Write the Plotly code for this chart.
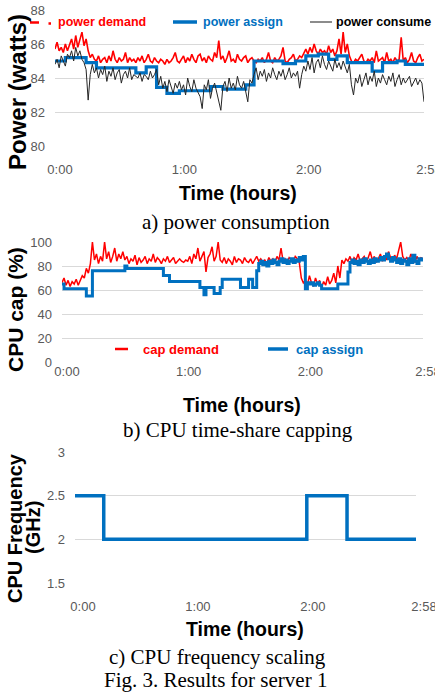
import plotly.graph_objects as go

# ---------------- data ----------------
minutes = list(range(179))  # 0:00 .. 2:58, one sample per minute

power_demand = [
    85.7, 86.1, 85.6, 85.8, 85.5, 86.0, 85.6, 85.9, 86.3, 85.7,
    86.5, 85.8, 86.2, 86.7, 85.9, 86.3, 85.6, 85.2, 85.4, 85.1,
    85.0, 85.3, 84.9, 85.1, 85.2, 84.9, 85.3, 85.0, 85.6, 85.1,
    84.9, 85.2, 85.0, 85.1, 85.5, 84.9, 85.2, 85.0, 85.1, 84.9,
    85.2, 85.0, 85.3, 84.9, 85.1, 85.4, 85.0, 84.9, 85.2, 85.0,
    84.9, 85.1, 85.0, 84.8, 85.1, 84.9, 85.0, 85.2, 85.5, 85.0,
    84.9, 85.1, 85.3, 84.9, 85.2, 85.0, 85.4, 85.1, 84.9, 85.3,
    85.4, 85.0, 85.2, 84.9, 85.3, 85.1, 85.0, 85.5, 85.2, 86.2,
    85.1, 85.3, 84.9, 85.2, 85.6, 85.0, 85.1, 84.9, 85.4, 85.1,
    85.0, 85.2, 85.3, 84.9, 85.1, 85.2, 85.0, 84.9, 85.1, 85.0,
    85.2, 84.9, 85.1, 85.5, 85.0, 84.9, 85.2, 85.0, 85.1, 85.3,
    85.8, 85.0, 84.9, 85.1, 85.2, 85.4, 85.0, 85.1, 85.3, 85.2,
    85.5, 85.7, 85.4, 85.8, 85.5, 86.0, 85.6, 85.4, 85.7, 85.5,
    85.6, 85.4, 85.9, 85.5, 85.7, 85.3, 85.6, 86.3, 85.4, 86.7,
    85.5, 86.0, 85.3, 85.0, 84.9, 85.1, 85.0, 85.2, 85.4, 85.0,
    84.9, 85.1, 85.0, 85.2, 84.9, 85.6, 85.0, 85.1, 85.2, 84.9,
    85.5, 85.0, 85.1, 84.9, 85.2, 85.0, 85.1, 86.4, 85.0, 85.2,
    84.9, 85.1, 85.5, 85.0, 84.9, 85.2, 85.4, 85.0, 85.1,
]

power_consume = [
    84.8, 85.1, 84.6, 85.3, 85.0, 84.7, 85.4, 85.2, 85.6, 85.0,
    85.8, 85.3, 85.6, 85.1, 84.9, 84.5, 82.7, 84.2, 84.8, 84.3,
    84.6, 84.0, 84.5, 84.2, 84.7, 83.8, 84.4, 84.1, 84.6, 83.9,
    84.3, 84.5, 83.7, 84.2, 84.4, 84.0, 84.6, 83.9, 84.2, 84.1,
    84.0, 84.3, 83.8, 84.2, 84.1, 83.9, 84.4, 84.0, 84.2, 84.5,
    83.6, 84.1, 83.4, 83.8, 83.2, 83.9, 83.5, 83.1, 83.7, 83.4,
    83.8, 83.3, 83.6, 83.0, 84.0, 83.5, 83.2, 83.9, 83.4, 83.1,
    82.9, 82.2, 83.6, 83.3, 83.9, 82.8, 83.4, 83.7, 83.1, 82.6,
    82.1, 83.5, 83.8, 83.2, 84.0, 83.4, 83.7, 83.3, 84.1, 83.6,
    83.4, 83.8, 83.2, 82.6, 83.9, 83.7, 84.2, 84.6, 83.9, 84.4,
    84.1, 84.5, 83.8, 84.3, 84.0, 84.6, 84.2, 83.9, 84.4, 84.1,
    84.5, 83.9, 84.2, 84.6, 84.0, 84.3, 84.1, 84.4, 83.4, 84.2,
    84.7, 84.4, 85.0, 84.5, 85.2, 84.3, 84.9, 85.1, 84.6, 85.3,
    84.8, 84.5, 85.0, 84.7, 84.4, 85.1, 84.6, 84.9, 84.5, 85.0,
    84.7, 84.3, 84.8, 83.6, 83.0, 84.0, 83.7, 84.2, 83.5, 83.9,
    84.3, 83.6, 84.1, 83.8, 84.4, 83.5, 84.0, 83.7, 84.2, 83.9,
    83.6, 84.1, 83.8, 84.3, 83.5, 83.9, 84.2, 83.6, 84.0, 83.7,
    83.9, 84.1, 83.5, 83.8, 84.0, 83.6, 83.9, 83.7, 82.6,
]

power_assign_t = [0, 5, 15, 20, 39, 44, 49, 54, 60, 75, 81, 92, 96,
                  110, 116, 121, 127, 132, 136, 141, 153, 158, 165, 169, 178]
power_assign_v = [85.0, 85.2, 84.9, 84.6, 84.3, 84.65, 83.45, 83.1, 83.25, 83.5, 83.35, 83.6, 85.0,
                  84.85, 85.0, 85.3, 85.4, 85.1, 85.3, 84.9, 84.4, 84.9, 85.0, 84.8, 84.8]

cap_demand = [
    66, 70, 64, 68, 63, 67, 65, 69, 64, 68,
    72, 70, 78, 74, 82, 100, 85, 90, 82, 88,
    84, 100, 86, 92, 83, 88, 95, 84, 90, 86,
    92, 85, 88, 82, 86, 84, 89, 81, 87, 83,
    85, 88, 82, 86, 84, 90, 83, 87, 85, 82,
    86, 84, 88, 83, 85, 87, 82, 84, 86, 84,
    83, 85, 84, 88, 82, 90, 86, 95, 84, 88,
    92, 75, 87, 90, 96, 84, 88, 100, 85, 83,
    87, 82, 86, 84, 81, 88, 83, 86, 85, 82,
    87, 84, 83, 86, 82, 85, 88, 84, 86, 83,
    85, 82, 87, 84, 86, 83, 88, 85, 95, 84,
    86, 83, 87, 85, 84, 88, 86, 83, 70, 66,
    68, 64, 72, 66, 63, 70, 65, 68, 62, 67,
    64, 71, 65, 68, 74, 66, 80, 70, 85, 82,
    86, 84, 88, 83, 87, 85, 90, 84, 86, 88,
    84, 87, 92, 85, 88, 83, 86, 90, 84, 88,
    85, 92, 87, 84, 89, 86, 93, 100, 88, 85,
    87, 84, 90, 86, 83, 88, 85, 87, 86,
]

cap_assign_t = [0, 1, 12, 15, 31, 32, 50, 53, 68, 70, 71, 75, 78, 79, 88, 92, 94, 96,
                97, 98, 99, 100, 101, 102, 103, 104, 105, 106, 107, 108, 109, 110,
                111, 112, 113, 114, 115, 116, 117, 118, 119,
                120, 121, 122, 123, 124, 125, 126, 127, 128, 136, 141,
                142, 143, 144, 145, 146, 147, 148, 149, 150, 151, 152, 153, 154,
                155, 156, 157, 158, 159, 160, 161, 162, 163, 164, 165, 166, 167,
                168, 169, 170, 171, 172, 173, 174, 175, 176, 177, 178]
cap_assign_v = [65, 61, 55, 76, 80, 78, 72, 67, 62, 56, 62, 57, 62, 69, 62, 69, 62, 76,
                82, 84, 81, 83, 80, 84, 82, 85, 83, 81, 84, 86, 83, 85,
                82, 84, 86, 83, 85, 84, 87, 85, 88,
                61, 66, 65, 66, 64, 65, 66, 64, 61, 65, 75,
                83, 85, 82, 84, 81, 85, 83, 86, 84, 82, 85, 83, 86,
                84, 85, 87, 85, 88, 90, 86, 84, 87, 85, 83, 86, 82,
                85, 84, 81, 86, 83, 89, 84, 82, 86, 85, 87]

freq_t = [0, 15, 121, 142, 178]
freq_v = [2.5, 2.0, 2.5, 2.0, 2.0]

tick_vals = [0, 60, 120, 178]
tick_text = ["0:00", "1:00", "2:00", "2:58"]

# ---------------- styling ----------------
W, H = 435, 694
RED = "#FF0000"
BLUE = "#0070C0"
BLACK = "#262626"
GRID = "#d9d9d9"
TICK = "#595959"
SANS = "Arial, Liberation Sans, sans-serif"
SERIF = "Times New Roman, Liberation Serif, serif"


def px(x):
    return x / W


def py(y):
    return 1 - y / H


fig = go.Figure()

# a) power
fig.add_trace(go.Scatter(x=minutes, y=power_demand, mode="lines",
                         line=dict(color=RED, width=1.6), xaxis="x", yaxis="y"))
fig.add_trace(go.Scatter(x=power_assign_t, y=power_assign_v, mode="lines",
                         line=dict(color=BLUE, width=3.2, shape="hv"), xaxis="x", yaxis="y"))
fig.add_trace(go.Scatter(x=minutes, y=power_consume, mode="lines",
                         line=dict(color=BLACK, width=1), xaxis="x", yaxis="y"))
# b) cpu cap
fig.add_trace(go.Scatter(x=minutes, y=cap_demand, mode="lines",
                         line=dict(color=RED, width=1.5), xaxis="x2", yaxis="y2"))
fig.add_trace(go.Scatter(x=cap_assign_t, y=cap_assign_v, mode="lines",
                         line=dict(color=BLUE, width=3, shape="hv"), xaxis="x2", yaxis="y2"))
# c) frequency
fig.add_trace(go.Scatter(x=freq_t, y=freq_v, mode="lines",
                         line=dict(color=BLUE, width=3.5, shape="hv"), xaxis="x3", yaxis="y3"))

tickfont = dict(family=SANS, size=13, color=TICK)


def xax(domain, anchor, standoff, shift):
    return dict(domain=domain, anchor=anchor, range=[0, 178], tickvals=tick_vals,
                ticktext=tick_text, showgrid=False, zeroline=False, showline=False,
                ticks="", tickfont=tickfont, ticklabelstandoff=standoff,
                ticklabelshift=shift, ticklabeloverflow="allow",
                automargin=False, fixedrange=True)


def yax(domain, anchor, rng, dtick):
    return dict(domain=domain, anchor=anchor, range=rng, dtick=dtick, showgrid=True,
                gridcolor=GRID, gridwidth=1, zeroline=False, showline=False, ticks="",
                tickfont=tickfont, ticklabelstandoff=9, ticklabeloverflow="allow",
                automargin=False, fixedrange=True)


fig.update_layout(
    width=W, height=H,
    margin=dict(l=0, r=0, t=0, b=0),
    paper_bgcolor="white", plot_bgcolor="white",
    showlegend=False,
    xaxis=xax([px(55), px(424)], "y", 14, 5),
    yaxis=yax([py(146), py(10)], "x", [80, 88], 2),
    xaxis2=xax([px(62), px(423)], "y2", 0, 5),
    yaxis2=yax([py(362), py(242)], "x2", [0, 100], 20),
    xaxis3=xax([px(75), px(416)], "y3", 14, 8),
    yaxis3=yax([py(583), py(452)], "x3", [1.5, 3], 0.5),
)

ann = []


def text(t, x, y, size, color="black", family=SANS, angle=0, xanchor="center"):
    ann.append(dict(text=t, x=px(x), y=py(y), xref="paper", yref="paper",
                    xanchor=xanchor, yanchor="middle", showarrow=False, textangle=angle,
                    font=dict(family=family, size=size, color=color)))


# axis titles and captions
text("<b>Power (watts)</b>", 17, 92, 24, angle=-90)
text("<b>Time (hours)</b>", 238, 193, 19.5)
text("a) power consumption", 236, 222, 21, family=SERIF)

text("<b>CPU cap (%)</b>", 15, 310, 21, angle=-90)
text("<b>Time (hours)</b>", 242, 405, 19.5)
text("b) CPU time-share capping", 238, 430, 21, family=SERIF)

text("<b>CPU Frequency</b>", 15, 528, 20, angle=-90)
text("<b>(GHz)</b>", 33, 528, 20, angle=-90)
text("<b>Time (hours)</b>", 245, 629, 19.5)
text("c) CPU frequency scaling", 218, 657, 21, family=SERIF)
text("Fig. 3. Results for server 1", 215, 680, 21, family=SERIF)

# legends
text("<b>power demand</b>", 56, 22, 12.5, color=RED, xanchor="left")
text("<b>power assign</b>", 201, 22, 12.5, color=BLUE, xanchor="left")
text("<b>power consume</b>", 334, 22, 12.5, color="black", xanchor="left")
text("<b>cap demand</b>", 141, 349, 13, color=RED, xanchor="left")
text("<b>cap assign</b>", 294, 349, 13, color=BLUE, xanchor="left")

shapes = []


def seg(x0, x1, y, color, width):
    shapes.append(dict(type="line", xref="paper", yref="paper", x0=px(x0), x1=px(x1),
                       y0=py(y), y1=py(y), line=dict(color=color, width=width)))


seg(30, 39, 22.5, RED, 2.5)
seg(48.5, 51, 23.5, RED, 2.5)
seg(173, 197, 22, BLUE, 3.5)
seg(310, 332, 22, "#404040", 1.2)
seg(115, 128, 349, RED, 2.5)
seg(268, 288, 349, BLUE, 3.5)

fig.update_layout(annotations=ann, shapes=shapes)

fig.write_html(
    "out.html",
    config={"displayModeBar": False},
    post_script="document.body.style.margin='0';document.body.style.overflow='hidden';",
)
